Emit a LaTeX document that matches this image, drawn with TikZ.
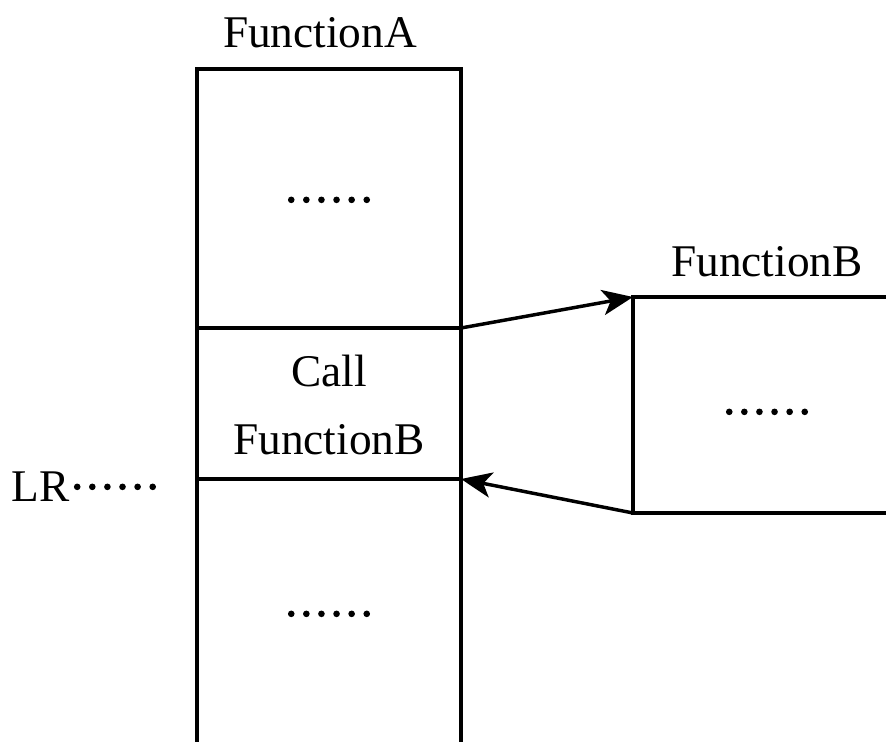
\documentclass[tikz,border=0pt]{standalone}
\usepackage{fontspec}
\setmainfont{Liberation Serif}
\newfontface\dotface[FakeBold=2.5]{Liberation Serif}
\newcommand\ellip{{\dotface ······}}
\usetikzlibrary{arrows.meta,positioning}

\begin{document}
\begin{tikzpicture}[x=0.75pt,y=-0.75pt, every node/.style={font=\fontsize{34}{51}\selectfont,align=center,inner sep=0pt}, frame/.style={line width=2.6pt}, callarrow/.style={-{Stealth[length=23pt,width=19pt,inset=6pt]},line width=2.6pt}]
\useasboundingbox (0,0) rectangle (886,742);
% FunctionA stack
\coordinate (a-sw) at (197,742);
\coordinate (a-ne) at (461,69);
\coordinate (a-se) at (461,742);
\coordinate (call-nw) at (197,328);
\coordinate (call-ne) at (461,328);
\coordinate (call-sw) at (197,479);
\coordinate (call-se) at (461,479);
\draw[frame] (a-sw) |- (a-ne) -- (a-se);
\draw[frame] (call-nw) -- (call-ne);
\draw[frame] (call-sw) -- (call-se);
\node (fa) at (320,33) {FunctionA};
\node (fa-top) at (329,206) {\ellip};
\node (call) at (329,405) {Call\\FunctionB};
\node (fa-bot) at (329,620) {\ellip};
\node (lr) at (86,487) {LR\ellip};
% FunctionB
\coordinate (b-nw) at (633,297);
\coordinate (b-ne) at (886,297);
\coordinate (b-sw) at (633,513);
\coordinate (b-se) at (886,513);
\draw[frame] (b-ne) -- (b-nw) -- (b-sw) -- (b-se);
\node (fb) at (767,262) {FunctionB};
\node (fb-body) at (767,418) {\ellip};
% call and return
\draw[callarrow] (call-ne) -- (b-nw);
\draw[callarrow] (b-sw) -- (call-se);
\end{tikzpicture}
\end{document}
